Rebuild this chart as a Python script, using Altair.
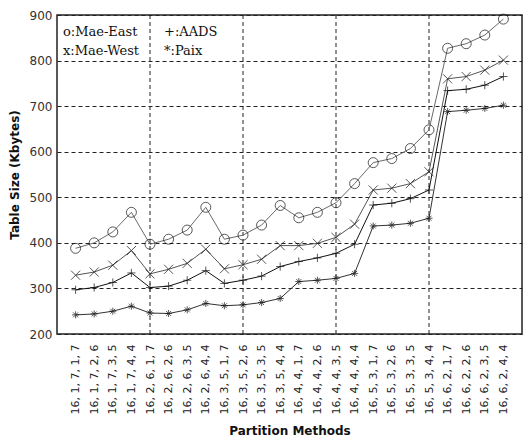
import json
import altair as alt
import pandas as pd

# Partition methods along the x axis
methods = [
    "16, 1, 7, 1, 7", "16, 1, 7, 2, 6", "16, 1, 7, 3, 5", "16, 1, 7, 4, 4",
    "16, 2, 6, 1, 7", "16, 2, 6, 2, 6", "16, 2, 6, 3, 5", "16, 2, 6, 4, 4",
    "16, 3, 5, 1, 7", "16, 3, 5, 2, 6", "16, 3, 5, 3, 5", "16, 3, 5, 4, 4",
    "16, 4, 4, 1, 7", "16, 4, 4, 2, 6", "16, 4, 4, 3, 5", "16, 4, 4, 4, 4",
    "16, 5, 3, 1, 7", "16, 5, 3, 2, 6", "16, 5, 3, 3, 5", "16, 5, 3, 4, 4",
    "16, 6, 2, 1, 7", "16, 6, 2, 2, 6", "16, 6, 2, 3, 5", "16, 6, 2, 4, 4",
]

# Table size (Kbytes) per routing table
mae_east = [388, 400, 424, 467, 397, 408, 428, 478, 408, 417, 439, 482,
            455, 467, 488, 530, 576, 585, 607, 648, 827, 837, 856, 891]
mae_west = [329, 336, 351, 383, 332, 342, 355, 386, 343, 352, 364, 394,
            394, 399, 412, 441, 516, 520, 530, 556, 760, 765, 779, 801]
aads = [297, 302, 313, 334, 302, 305, 318, 339, 311, 318, 327, 348,
        359, 367, 377, 397, 483, 487, 497, 516, 734, 737, 746, 765]
paix = [242, 244, 250, 261, 246, 245, 253, 267, 262, 264, 269, 278,
        315, 318, 322, 333, 437, 439, 443, 454, 688, 691, 695, 702]

series_names = ["Mae-East", "Mae-West", "AADS", "Paix"]
series_values = [mae_east, mae_west, aads, paix]
legend_lines = [["o:Mae-East", "+:AADS"], ["x:Mae-West", "*:Paix"]]

y_ticks = [200, 300, 400, 500, 600, 700, 800, 900]
x_grid = [5, 10, 15, 20]

rows = []
for name, vals in zip(series_names, series_values):
    for i, (m, v) in enumerate(zip(methods, vals)):
        rows.append({"pos": i + 1, "method": m, "series": name, "size": v})
df = pd.DataFrame(rows)

label_expr = json.dumps(methods) + "[datum.value - 1]"

x_scale = alt.Scale(domain=[0, 25], nice=False, zero=False)
y_scale = alt.Scale(domain=[200, 900], nice=False, zero=False)

x_axis = alt.Axis(
    values=list(range(1, len(methods) + 1)),
    labelExpr=label_expr,
    labelAngle=270,
    labelAlign="right",
    labelBaseline="middle",
    labelPadding=10,
    labelFontSize=11,
    labelFont="DejaVu Sans",
    labelColor="#222",
    labelOverlap=False,
    labelSeparation=0,
    ticks=False,
    grid=False,
    domain=False,
    title="Partition Methods",
    titleFont="DejaVu Sans",
    titleFontSize=12,
    titleFontWeight="bold",
    titleColor="#111",
    titlePadding=12,
)
y_axis = alt.Axis(
    values=y_ticks,
    labelFontSize=12,
    labelFont="DejaVu Sans",
    labelColor="#333",
    labelPadding=5,
    ticks=False,
    domain=False,
    grid=True,
    gridColor="#222",
    gridDash=[4, 3],
    gridWidth=1,
    title="Table Size (Kbytes)",
    titleFont="DejaVu Sans",
    titleFontSize=12,
    titleFontWeight="bold",
    titleColor="#111",
    titlePadding=8,
)

x_enc = alt.X("pos:Q", scale=x_scale, axis=x_axis)
y_enc = alt.Y("size:Q", scale=y_scale, axis=y_axis)

line_colors = ["#6a6a6a", "#555555", "#111111", "#333333"]
shapes = [
    "circle",
    "M-1,-1L1,1M-1,1L1,-1",
    "M-1,0L1,0M0,-1L0,1",
    "M-1,0L1,0M0,-1L0,1M-0.7,-0.7L0.7,0.7M-0.7,0.7L0.7,-0.7",
]
sizes = [100, 50, 90, 80]

lines = alt.Chart(df).mark_line(strokeWidth=1).encode(
    x=x_enc,
    y=y_enc,
    color=alt.Color("series:N", scale=alt.Scale(domain=series_names, range=line_colors), legend=None),
    detail="series:N",
)

points = alt.Chart(df).mark_point(filled=False, strokeWidth=1, color="#111").encode(
    x=x_enc,
    y=y_enc,
    shape=alt.Shape("series:N", scale=alt.Scale(domain=series_names, range=shapes), legend=None),
    size=alt.Size("series:N", scale=alt.Scale(domain=series_names, range=sizes), legend=None),
)

vgrid = alt.Chart(pd.DataFrame({"pos": x_grid})).mark_rule(
    color="#222", strokeDash=[4, 3], strokeWidth=1
).encode(x=x_enc)

# Text key in the upper-left corner of the plot
legend_layers = []
col_x = [6, 107]
row_y = [21, 40]
for r, pair in enumerate(legend_lines):
    for c, txt in enumerate(pair):
        legend_layers.append(
            alt.Chart(pd.DataFrame({"t": [txt]})).mark_text(
                font="DejaVu Serif", fontSize=13, align="left",
                baseline="alphabetic", color="#111",
            ).encode(x=alt.value(col_x[c]), y=alt.value(row_y[r]), text="t:N")
        )

chart = (
    alt.layer(vgrid, lines, points, *legend_layers)
    .properties(
        width=465,
        height=319,
        autosize=alt.AutoSizeParams(type="none"),
        padding={"left": 57, "top": 15, "right": 6, "bottom": 107},
        background="white",
    )
    .configure_view(stroke="#222", strokeWidth=1.5)
    .configure_axisX(labelOverlap=False)
)

chart.save("out.html", embed_options={"renderer": "svg", "actions": False})
